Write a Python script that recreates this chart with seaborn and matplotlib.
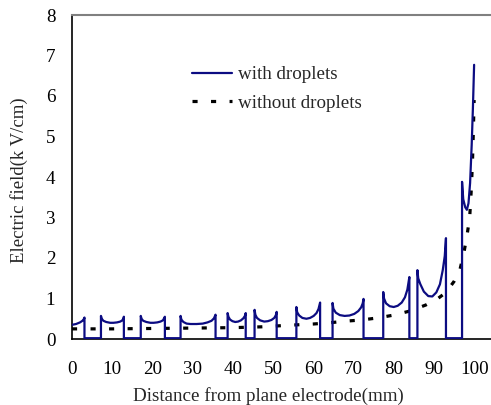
import numpy as np
import pandas as pd
import matplotlib
matplotlib.use("Agg")
import matplotlib.pyplot as plt
import seaborn as sns

# Field along the gap with a chain of water droplets (kV/cm vs mm).
# Each list is one air gap between droplets; inside a droplet the field is ~0.
gap_x = [
    [0.0, 1.0, 2.0, 2.6, 3.0, 3.1],
    [7.2, 7.4, 7.8, 8.5, 9.5, 10.3, 11.2, 12.0, 12.5, 12.8, 12.9],
    [17.1, 17.3, 17.7, 18.5, 19.5, 20.3, 21.2, 22.0, 22.6, 22.9, 23.1],
    [27.0, 27.2, 27.7, 28.5, 29.5, 31.0, 32.5, 33.7, 34.7, 35.3, 35.7],
    [38.7, 38.9, 39.3, 39.9, 40.6, 41.3, 42.0, 42.6, 43.0, 43.2],
    [45.4, 45.6, 46.0, 46.8, 47.8, 48.7, 49.6, 50.3, 50.7, 50.9],
    [55.8, 56.0, 56.5, 57.3, 58.3, 59.2, 60.1, 60.8, 61.3, 61.7],
    [64.8, 65.0, 65.6, 66.6, 67.8, 69.0, 70.2, 71.2, 71.9, 72.3, 72.5],
    [77.4, 77.6, 78.1, 79.0, 80.0, 81.0, 82.0, 82.8, 83.4, 83.9],
    [85.9, 86.1, 86.6, 87.5, 88.6, 89.6, 90.6, 91.5, 92.2, 92.7, 93.0],
    [97.0, 97.3, 97.8, 98.2, 98.6, 99.0, 99.4, 99.7, 100.0],
]
gap_e = [
    [0.35, 0.37, 0.41, 0.45, 0.50, 0.53],
    [0.57, 0.50, 0.45, 0.42, 0.40, 0.40, 0.41, 0.43, 0.46, 0.51, 0.55],
    [0.57, 0.50, 0.45, 0.42, 0.40, 0.40, 0.41, 0.43, 0.46, 0.51, 0.55],
    [0.57, 0.48, 0.42, 0.38, 0.37, 0.37, 0.38, 0.41, 0.45, 0.51, 0.60],
    [0.64, 0.55, 0.48, 0.44, 0.42, 0.43, 0.46, 0.51, 0.57, 0.64],
    [0.72, 0.60, 0.52, 0.46, 0.43, 0.44, 0.47, 0.52, 0.59, 0.67],
    [0.79, 0.66, 0.58, 0.52, 0.50, 0.52, 0.57, 0.64, 0.74, 0.90],
    [0.89, 0.75, 0.65, 0.59, 0.57, 0.58, 0.62, 0.69, 0.78, 0.88, 0.99],
    [1.16, 1.00, 0.88, 0.81, 0.79, 0.82, 0.90, 1.03, 1.22, 1.53],
    [1.70, 1.50, 1.36, 1.17, 1.06, 1.05, 1.15, 1.35, 1.70, 2.05, 2.49],
    [3.88, 3.45, 3.25, 3.19, 3.35, 3.85, 4.80, 5.70, 6.77],
]
droplet_field = 0.02

# Field without droplets
plain_x = [0, 10, 20, 30, 40, 47, 54, 60, 64, 68, 72, 76, 80, 84, 88, 91, 93,
           95, 96.5, 97.5, 98.3, 98.9, 99.3, 99.6, 99.8, 100]
plain_e = [0.25, 0.25, 0.26, 0.27, 0.28, 0.30, 0.34, 0.37, 0.40, 0.44, 0.47,
           0.52, 0.59, 0.69, 0.84, 1.00, 1.15, 1.42, 1.72, 2.15, 2.60, 3.00,
           3.70, 4.40, 5.10, 5.90]

x_ticks = [0, 10, 20, 30, 40, 50, 60, 70, 80, 90, 100]
y_ticks = [0, 1, 2, 3, 4, 5, 6, 7, 8]

# Join the gaps into one trace, dropping to the droplet level between them
wx, we = [], []
for i, (xs, es) in enumerate(zip(gap_x, gap_e)):
    if i > 0:
        wx.append(xs[0])
        we.append(droplet_field)
    wx.extend(xs)
    we.extend(es)
    if i < len(gap_x) - 1:
        wx.append(xs[-1])
        we.append(droplet_field)

with_df = pd.DataFrame({"x": wx, "E": we})
plain_df = pd.DataFrame({"x": plain_x, "E": plain_e})

sns.set_style("white")
plt.rcParams["font.family"] = ["Liberation Serif", "DejaVu Serif"]
plt.rcParams["font.size"] = 13.7

fig = plt.figure(figsize=(4.91, 4.05), dpi=100)
ax = fig.add_axes([72 / 491, 1 - 339 / 405, 1 - 72 / 491, (339 - 15) / 405])

sns.lineplot(data=with_df, x="x", y="E", sort=False, estimator=None, ax=ax,
             color="#0c0c82", linewidth=1.6, label="with droplets", zorder=3)
sns.lineplot(data=plain_df, x="x", y="E", sort=False, estimator=None, ax=ax,
             color="black", linewidth=2.3, label="without droplets", zorder=2)
ax.lines[1].set_dashes([1.6, 4.2])

ax.set_xlim(0, 104.2)
ax.set_ylim(0, 8)
ax.set_xticks(x_ticks)
ax.set_yticks(y_ticks)
ax.tick_params(axis="both", direction="in", length=5, width=0.8, colors="black",
               labelsize=13.7)
ax.tick_params(axis="x", pad=16)
ax.tick_params(axis="y", pad=12)
ax.tick_params(axis="x", colors="#555555", labelcolor="black")

for side in ["left", "bottom"]:
    ax.spines[side].set_color("black")
    ax.spines[side].set_linewidth(1.2)
ax.spines["top"].set_color("#808080")
ax.spines["top"].set_linewidth(1.5)
ax.spines["right"].set_visible(False)

ax.set_xlabel("Distance from plane electrode(mm)", fontsize=13.7)
ax.set_ylabel("Electric field(k V/cm)", fontsize=13.5)
ax.xaxis.set_label_coords((268 - 72) / (491 - 72), -(396 - 339) / (339 - 15))
ax.yaxis.set_label_coords(-(72 - 19) / (491 - 72), (339 - 180) / (339 - 15))
ax.xaxis.label.set_va("center")
ax.yaxis.label.set_va("center")

leg = ax.legend(loc="upper left", bbox_to_anchor=((192 - 72) / 419, (339 - 66) / 324),
                frameon=False, fontsize=13.7, handlelength=2.1, handletextpad=0.3,
                labelspacing=0.6, borderaxespad=0, borderpad=0)

fig.savefig("out.png", dpi=100)
